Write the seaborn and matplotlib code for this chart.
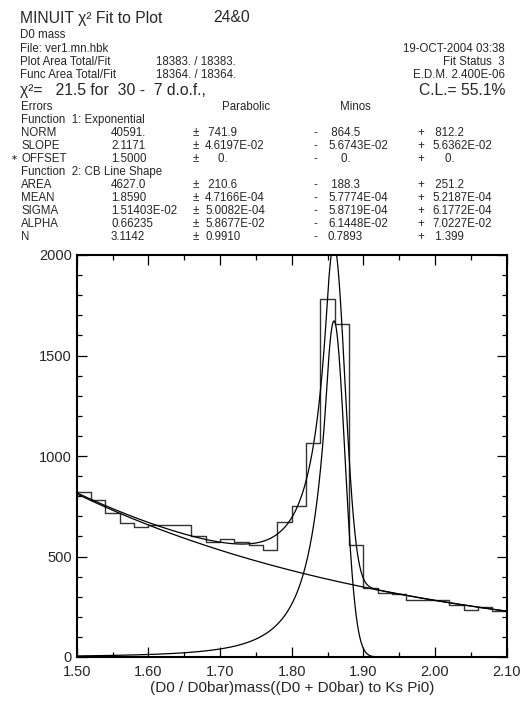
import math
import numpy as np
import pandas as pd
import seaborn as sns
import matplotlib.pyplot as plt
from matplotlib.ticker import MultipleLocator, FormatStrFormatter

# histogram contents, 30 bins from 1.50 to 2.10
x_lo, x_hi, n_bins = 1.50, 2.10, 30
counts = [820, 779, 716, 667, 645, 655, 655, 655, 600, 572,
          585, 574, 556, 534, 672, 753, 1063, 1780, 1656, 556,
          344, 319, 311, 283, 283, 286, 261, 233, 250, 228]

# fit results as printed on the plot
norm, slope, offset = 40591., 2.1171, 1.5000
area, mean, sigma, alpha, n_cb = 4627.0, 1.8590, 1.51403e-02, 0.66235, 3.1142

par_names = ['NORM', 'SLOPE', 'OFFSET', 'AREA', 'MEAN', 'SIGMA', 'ALPHA', 'N']
par_values = ['40591.', '2.1171', '1.5000', '4627.0', '1.8590', '1.51403E-02', '0.66235', '3.1142']
par_errors = [' 741.9', '4.6197E-02', '    0.', ' 210.6', '4.7166E-04', '5.0082E-04', '5.8677E-02', '0.9910']
minos_minus = [' 864.5', '5.6743E-02', '    0.', ' 188.3', '5.7774E-04', '5.8719E-04', '6.1448E-02', '0.7893']
minos_plus = [' 812.2', '5.6362E-02', '    0.', ' 251.2', '5.2187E-04', '6.1772E-04', '7.0227E-02', ' 1.399']

W, H = 522, 705
SMALL, BIG = 8.3, 11.3

sns.set_style('ticks')
plt.rcParams['font.family'] = ['Liberation Sans', 'DejaVu Sans']

fig = plt.figure(figsize=(W / 100, H / 100), dpi=100)
ax = fig.add_axes([76.7 / W, (H - 657) / H, 430 / W, 402 / H])


def put(x, y, s, size=SMALL, ha='left'):
    fig.text(x / W, 1 - y / H, s, fontsize=size, ha=ha, va='center')


# header block
put(20, 18, 'MINUIT χ² Fit to Plot', size=BIG)
put(213, 18, '24&0', size=BIG)
put(20, 35, 'D0 mass')
put(20, 49, 'File: ver1.mn.hbk')
put(20, 62, 'Plot Area Total/Fit')
put(156, 62, '18383. / 18383.')
put(20, 75, 'Func Area Total/Fit')
put(156, 75, '18364. / 18364.')
put(505, 49, '19-OCT-2004 03:38', ha='right')
put(505, 62, 'Fit Status  3', ha='right')
put(505, 75, 'E.D.M. 2.400E-06', ha='right')
put(20, 90.5, 'χ²=   21.5 for  30 -  7 d.o.f.,', size=BIG)
put(505, 90.5, 'C.L.= 55.1%', ha='right', size=BIG)
put(21, 106.5, 'Errors')
put(222, 106.5, 'Parabolic')
put(340, 106.5, 'Minos')

rows_y = [133, 146, 159, 185, 198, 211, 224, 237]
put(21, 120, 'Function  1: Exponential')
put(21, 172, 'Function  2: CB Line Shape')
for i, y in enumerate(rows_y):
    put(21, y, par_names[i])
    put(111, y, par_values[i])
    put(193, y, '±')
    put(205, y, par_errors[i])
    put(313, y, '-')
    put(328, y, minos_minus[i])
    put(417, y, '+')
    put(432, y, minos_plus[i])
put(11, 159, '∗', size=6)

# histogram
edges = np.linspace(x_lo, x_hi, n_bins + 1)
bw = edges[1] - edges[0]
hist_df = pd.DataFrame({'mass': 0.5 * (edges[:-1] + edges[1:]), 'n': counts})
sns.histplot(data=hist_df, x='mass', weights='n', bins=n_bins, binrange=(x_lo, x_hi),
             element='step', fill=False, color='#333333', linewidth=1.0, ax=ax)

# fit functions, in counts per bin
xs = np.linspace(x_lo, x_hi, 1500)
expo = norm * np.exp(-slope * (xs - offset)) * bw
t = (xs - mean) / sigma
A = (n_cb / alpha) ** n_cb * math.exp(-alpha ** 2 / 2)
B = n_cb / alpha - alpha
shape = np.where(t > -alpha, np.exp(-0.5 * t ** 2), A * np.abs(B - t) ** (-n_cb))
C = n_cb / alpha / (n_cb - 1) * math.exp(-alpha ** 2 / 2)
D = math.sqrt(math.pi / 2) * (1 + math.erf(alpha / math.sqrt(2)))
cb = area * bw * shape / (sigma * (C + D))

for yy in (expo, cb, expo + cb):
    sns.lineplot(x=xs, y=yy, color='black', linewidth=0.9, estimator=None,
                 sort=False, ax=ax)

ax.set_xlim(x_lo, x_hi)
ax.set_ylim(0, 2000)
ax.xaxis.set_major_locator(MultipleLocator(0.1))
ax.xaxis.set_minor_locator(MultipleLocator(0.05))
ax.xaxis.set_major_formatter(FormatStrFormatter('%.2f'))
ax.yaxis.set_major_locator(MultipleLocator(500))
ax.yaxis.set_minor_locator(MultipleLocator(100))
ax.tick_params(which='both', direction='in', top=True, right=True,
               width=0.9, color='black', labelsize=10.5)
ax.tick_params(which='major', length=7.5)
ax.tick_params(which='minor', length=3.8)
ax.tick_params(axis='x', pad=5.5)
ax.tick_params(axis='y', pad=3.5)
for sp in ax.spines.values():
    sp.set_visible(True)
    sp.set_linewidth(1.5)
    sp.set_color('black')
ax.set_ylabel('')
ax.set_xlabel('(D0 / D0bar)mass((D0 + D0bar) to Ks Pi0)', fontsize=11, labelpad=2)

fig.savefig('out.png', dpi=100)
